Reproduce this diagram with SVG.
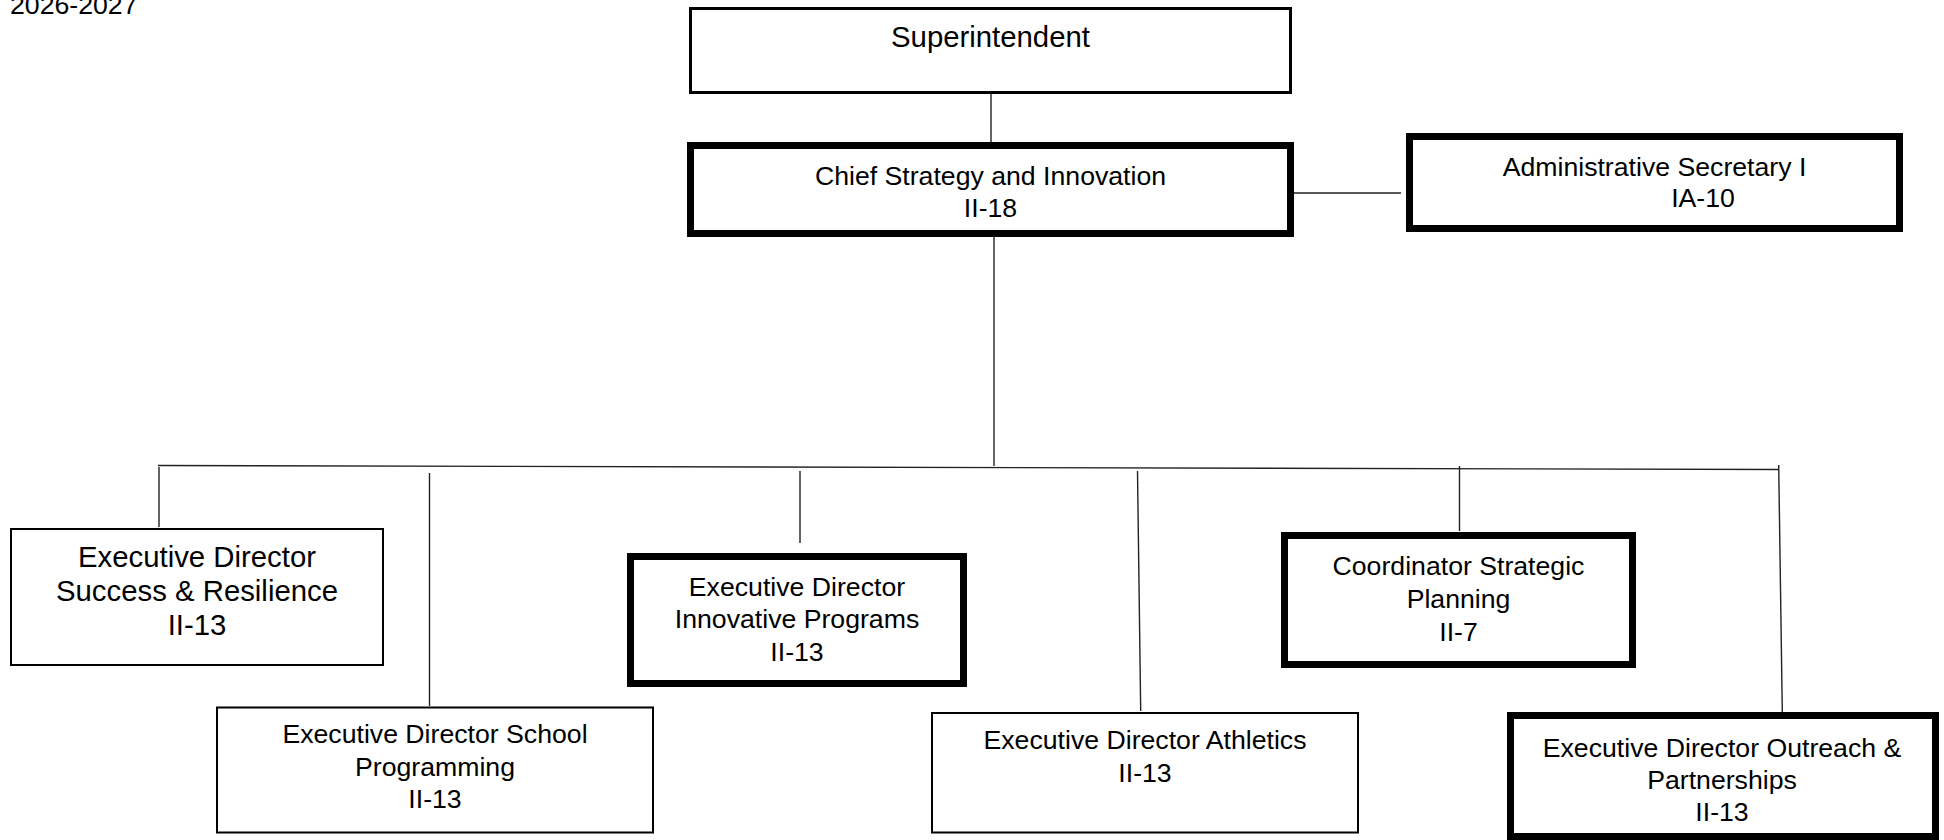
<svg xmlns="http://www.w3.org/2000/svg" width="1944" height="840" viewBox="0 0 1944 840">
<style>
.box{fill:#fff;stroke:#000}
.thin{stroke-width:2}
.med{stroke-width:3}
.thick{stroke-width:7}
text{font-family:"Liberation Sans",Arial,sans-serif;fill:#000;text-anchor:middle}
.t20{font-size:26.67px}
.t22{font-size:29.33px}
.conn line{stroke:#222;stroke-width:1.4}
</style>
<rect width="1944" height="840" fill="#fff"/>
<text class="t20" x="10" y="13.5" style="text-anchor:start">2026-2027</text>
<g class="conn" id="connectors">
<line x1="991" y1="94" x2="991" y2="142"/>
<line x1="1294" y1="193" x2="1401" y2="193"/>
<line x1="994" y1="237" x2="994" y2="466"/>
<line x1="158" y1="465.5" x2="1779" y2="469.5"/>
<line x1="159" y1="467" x2="159" y2="527"/>
<line x1="429.5" y1="473" x2="429.5" y2="706"/>
<line x1="800" y1="471" x2="800" y2="543"/>
<line x1="1137.5" y1="471" x2="1140.7" y2="711"/>
<line x1="1459.5" y1="466" x2="1459.5" y2="531"/>
<line x1="1778.7" y1="465" x2="1782.3" y2="712"/>
</g>
<g id="superintendent">
<rect class="box med" x="690.5" y="8.5" width="600" height="84"/>
<text class="t22" x="990.5" y="47">Superintendent</text>
</g>
<g id="chief">
<rect class="box thick" x="690.5" y="145.5" width="600" height="88"/>
<text class="t20" x="990.5" y="185">Chief Strategy and Innovation</text>
<text class="t20" x="990.5" y="217">II-18</text>
</g>
<g id="admin-secretary">
<rect class="box thick" x="1409.5" y="136.5" width="490" height="92"/>
<text class="t20" x="1654.5" y="176">Administrative Secretary I</text>
<text class="t20" x="1703" y="207">IA-10</text>
</g>
<g id="success-resilience">
<rect class="box thin" x="11" y="529" width="372" height="136"/>
<text class="t22" x="197" y="567">Executive Director</text>
<text class="t22" x="197" y="601">Success &amp; Resilience</text>
<text class="t22" x="197" y="635">II-13</text>
</g>
<g id="school-programming">
<rect class="box thin" x="217" y="707.5" width="436" height="125"/>
<text class="t20" x="435" y="742.5">Executive Director School</text>
<text class="t20" x="435" y="775.5">Programming</text>
<text class="t20" x="435" y="808">II-13</text>
</g>
<g id="innovative-programs">
<rect class="box thick" x="630.5" y="556.5" width="333" height="127"/>
<text class="t20" x="797" y="595.5">Executive Director</text>
<text class="t20" x="797" y="628">Innovative Programs</text>
<text class="t20" x="797" y="661">II-13</text>
</g>
<g id="athletics">
<rect class="box thin" x="932" y="713" width="426" height="119.5"/>
<text class="t20" x="1145" y="748.5">Executive Director Athletics</text>
<text class="t20" x="1145" y="781.5">II-13</text>
</g>
<g id="coordinator-strategic-planning">
<rect class="box thick" x="1284.5" y="535.5" width="348" height="129"/>
<text class="t20" x="1458.5" y="575">Coordinator Strategic</text>
<text class="t20" x="1458.5" y="608">Planning</text>
<text class="t20" x="1458.5" y="641">II-7</text>
</g>
<g id="outreach-partnerships">
<rect class="box thick" x="1510.5" y="715.5" width="425" height="121"/>
<text class="t20" x="1722" y="756.5">Executive Director Outreach &amp;</text>
<text class="t20" x="1722" y="789">Partnerships</text>
<text class="t20" x="1722" y="821">II-13</text>
</g>
</svg>
